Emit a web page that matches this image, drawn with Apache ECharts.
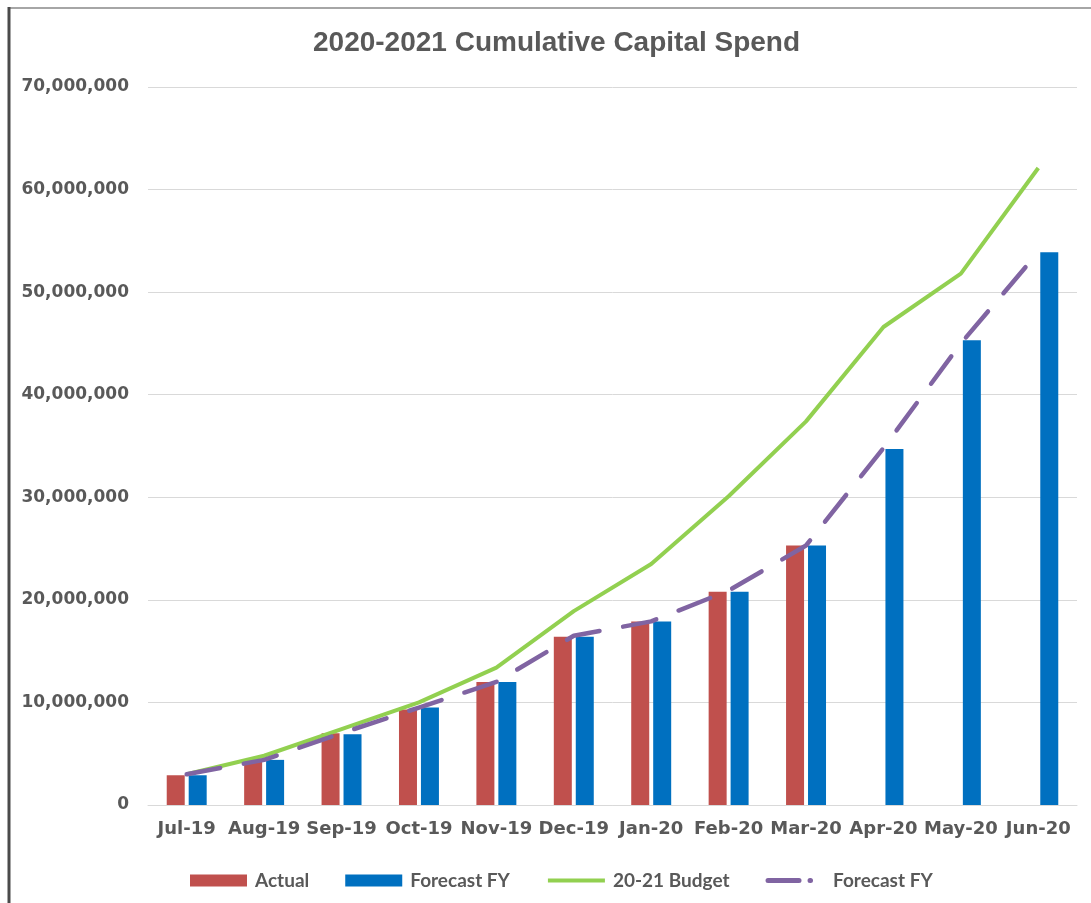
<!DOCTYPE html>
<html>
<head>
<meta charset="utf-8">
<title>2020-2021 Cumulative Capital Spend</title>
<script src="https://cdn.jsdelivr.net/npm/echarts@6/dist/echarts.min.js"></script>
<style>
  html, body { margin: 0; padding: 0; background: #ffffff; }
  #chart { width: 1091px; height: 903px; }
</style>
</head>
<body>
<div id="chart"></div>
<script>
// Month labels along the category axis
const months = ['Jul-19', 'Aug-19', 'Sep-19', 'Oct-19', 'Nov-19', 'Dec-19',
                'Jan-20', 'Feb-20', 'Mar-20', 'Apr-20', 'May-20', 'Jun-20'];

// Cumulative spend, in dollars
const actual = [2900000, 4200000, 7000000, 9300000, 12000000, 16400000,
                17900000, 20800000, 25300000, null, null, null];
const forecastBars = [2900000, 4400000, 6900000, 9500000, 12000000, 16400000,
                      17900000, 20800000, 25300000, 34700000, 45300000, 53900000];
const budget = [3000000, 4800000, 7400000, 10000000, 13400000, 18900000,
                23500000, 30100000, 37400000, 46600000, 51800000, 62100000];
const forecastLine = [3000000, 4400000, 7000000, 9500000, 12000000, 16500000,
                      17900000, 20900000, 25300000, 34800000, 45000000, 53900000];

// Value axis range
const yMin = 0;
const yMax = 70000000;
const yStep = 10000000;

const grey = '#595959';
const labelFont = 'DejaVu Sans';
const legendFont = 'Lato';
const hiddenMarker = { color: 'rgba(0,0,0,0)', borderWidth: 0, opacity: 0 };

const chart = echarts.init(document.getElementById('chart'), null, { renderer: 'canvas' });

chart.setOption({
  backgroundColor: '#ffffff',
  animation: false,
  title: {
    text: '2020-2021 Cumulative Capital Spend',
    left: 308,
    top: 24,
    textStyle: {
      fontFamily: 'Liberation Sans',
      fontWeight: 'bold',
      fontSize: 28,
      color: grey
    }
  },
  graphic: [
    { type: 'line', shape: { x1: 9, y1: 8, x2: 1091, y2: 8 },
      style: { stroke: '#a6a6a6', lineWidth: 2 }, silent: true },
    { type: 'line', shape: { x1: 9, y1: 7, x2: 9, y2: 903 },
      style: { stroke: '#4a4a4a', lineWidth: 3 }, silent: true }
  ],
  legend: {
    left: 185,
    top: 866,
    itemWidth: 57,
    itemHeight: 12,
    itemGap: 36,
    textStyle: {
      fontFamily: legendFont,
      fontWeight: 'bold',
      fontSize: 19,
      color: grey,
      padding: [0, 0, 0, 3]
    },
    data: [
      { name: 'Actual', icon: 'rect' },
      { name: 'Forecast FY', icon: 'rect' },
      { name: '20-21 Budget', itemStyle: hiddenMarker,
        lineStyle: { width: 4, color: '#92d050' } },
      { name: 'Forecast FY ', itemStyle: hiddenMarker,
        lineStyle: { width: 5, color: '#8064a2', type: [31, 11, 0.5, 100], cap: 'round' } }
    ],
    formatter: function (name) { return name.trim(); }
  },
  grid: {
    left: 148,
    right: 14,
    top: 87,
    bottom: 98
  },
  xAxis: {
    type: 'category',
    data: months,
    axisLine: { lineStyle: { color: '#d9d9d9', width: 1 } },
    axisTick: { show: false },
    axisLabel: {
      margin: 15,
      fontFamily: labelFont,
      fontWeight: 'bold',
      fontSize: 18,
      color: grey,
      interval: 0
    }
  },
  yAxis: {
    type: 'value',
    min: yMin,
    max: yMax,
    interval: yStep,
    axisLine: { show: false },
    axisTick: { show: false },
    splitLine: { lineStyle: { color: '#d9d9d9', width: 1 } },
    axisLabel: {
      margin: 19,
      fontFamily: labelFont,
      fontWeight: 'bold',
      fontSize: 17,
      color: grey,
      formatter: function (v) { return v.toLocaleString('en-US'); }
    }
  },
  series: [
    {
      name: 'Actual',
      type: 'bar',
      data: actual,
      barWidth: 18,
      barGap: '22%',
      itemStyle: { color: '#c0504d' }
    },
    {
      name: 'Forecast FY',
      type: 'bar',
      data: forecastBars,
      barWidth: 18,
      barGap: '22%',
      itemStyle: { color: '#0070c0' }
    },
    {
      name: '20-21 Budget',
      type: 'line',
      data: budget,
      symbol: 'none',
      lineStyle: { color: '#92d050', width: 4 },
      itemStyle: { color: '#92d050' },
      z: 3
    },
    {
      name: 'Forecast FY ',
      type: 'line',
      data: forecastLine,
      symbol: 'none',
      lineStyle: { color: '#8064a2', width: 4.5, type: [34, 24], cap: 'round' },
      itemStyle: { color: '#8064a2' },
      z: 4
    }
  ]
});
</script>
</body>
</html>
